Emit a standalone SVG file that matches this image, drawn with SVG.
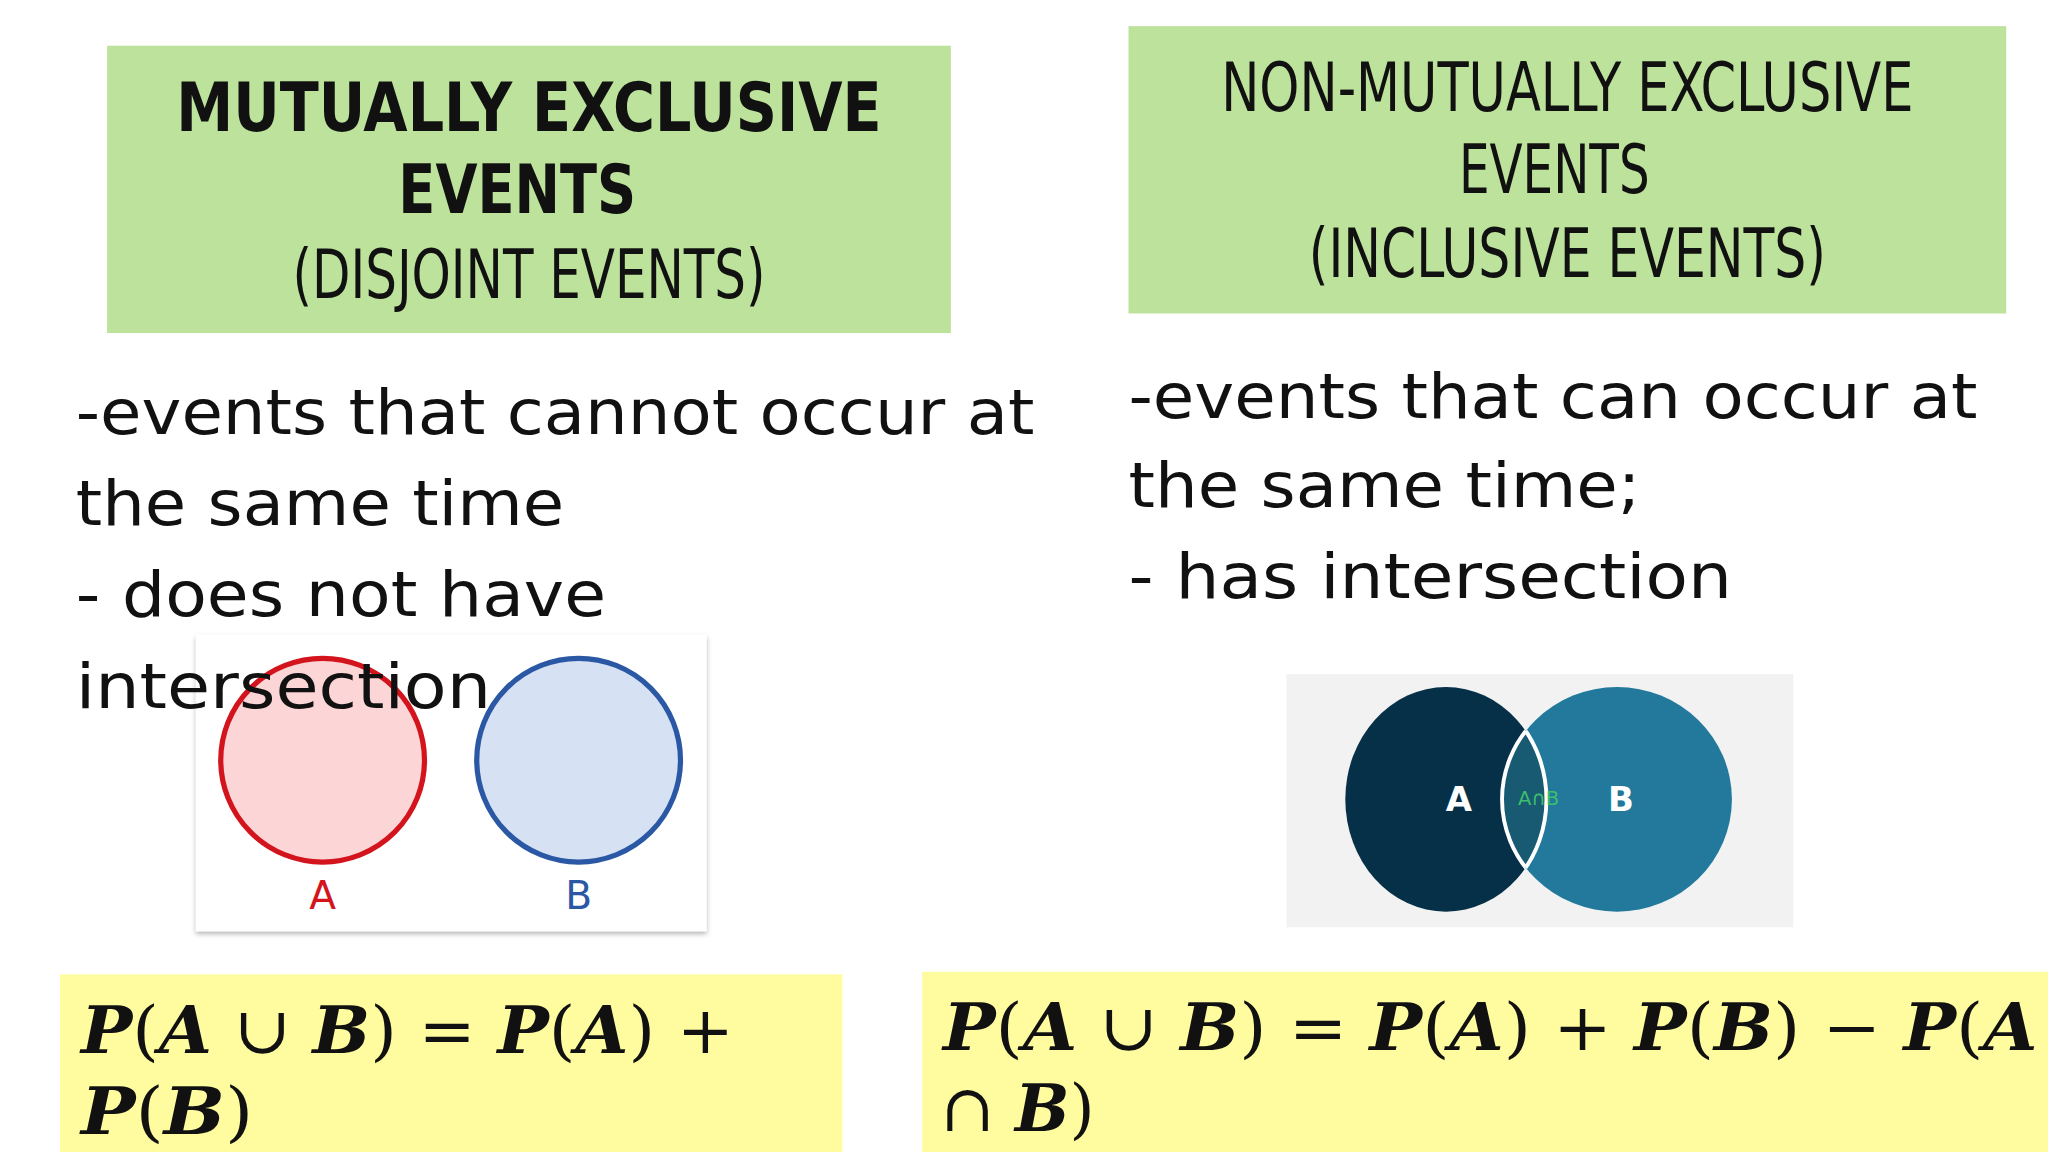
<svg xmlns="http://www.w3.org/2000/svg" width="2048" height="1152" viewBox="0 0 2048 1152">
<style>
.title{font-family:"DejaVu Sans Condensed","DejaVu Sans",sans-serif;font-weight:bold;font-size:52px;text-anchor:middle;fill:#111}
.body{font-family:"DejaVu Sans",sans-serif;font-size:48px;fill:#111}
.f{font-family:"DejaVu Serif","Liberation Serif",serif;font-size:50px;fill:#111}
.bi{font-weight:bold;font-style:italic}
</style>
<defs>
<filter id="sh"><feDropShadow dx="0" dy="2" stdDeviation="2" flood-opacity="0.3"/></filter>
<clipPath id="ca"><ellipse cx="1107" cy="612" rx="77" ry="86"/></clipPath>
<clipPath id="cb"><ellipse cx="1238" cy="612" rx="88" ry="86"/></clipPath>
</defs>
<rect width="2048" height="1152" fill="#fff"/>
<g transform="scale(1.30612)">
<g id="title-left">
<rect x="82" y="35" width="646" height="220" fill="#bde29b"/>
<text class="title" x="405" y="100" textLength="540" lengthAdjust="spacingAndGlyphs">MUTUALLY EXCLUSIVE</text>
<text class="title" x="396" y="163" textLength="182" lengthAdjust="spacingAndGlyphs">EVENTS</text>
<text class="title" x="405" y="228" style="font-weight:normal" textLength="362" lengthAdjust="spacingAndGlyphs">(DISJOINT EVENTS)</text>
</g>
<g id="title-right">
<rect x="864" y="20" width="672" height="220" fill="#bde29b"/>
<text class="title" x="1200" y="85" style="font-weight:normal" textLength="530" lengthAdjust="spacingAndGlyphs">NON-MUTUALLY EXCLUSIVE</text>
<text class="title" x="1190" y="148" style="font-weight:normal" textLength="146" lengthAdjust="spacingAndGlyphs">EVENTS</text>
<text class="title" x="1200" y="212" style="font-weight:normal" textLength="396" lengthAdjust="spacingAndGlyphs">(INCLUSIVE EVENTS)</text>
</g>
<g id="text-left">
<text class="body" x="58" y="332" textLength="734" lengthAdjust="spacingAndGlyphs">-events that cannot occur at</text>
<text class="body" x="58" y="402" textLength="374" lengthAdjust="spacingAndGlyphs">the same time</text>
<text class="body" x="58" y="472" textLength="406" lengthAdjust="spacingAndGlyphs">- does not have</text>
</g>
<g id="venn-left">
<rect x="150" y="486" width="391" height="227" fill="#fff" filter="url(#sh)"/>
<circle cx="247" cy="582" r="78" fill="#fcd5d7" stroke="#d4141c" stroke-width="4"/>
<circle cx="443" cy="582" r="78" fill="#d6e2f3" stroke="#2b58a4" stroke-width="4"/>
<text x="247" y="696" font-family="DejaVu Sans,sans-serif" font-size="30" fill="#d4141c" text-anchor="middle">A</text>
<text x="443" y="696" font-family="DejaVu Sans,sans-serif" font-size="30" fill="#2b58a4" text-anchor="middle">B</text>
<text class="body" x="58" y="542" textLength="318" lengthAdjust="spacingAndGlyphs">intersection</text>
</g>
<g id="text-right">
<text class="body" x="864" y="320" textLength="650" lengthAdjust="spacingAndGlyphs">-events that can occur at</text>
<text class="body" x="864" y="388" textLength="392" lengthAdjust="spacingAndGlyphs">the same time;</text>
<text class="body" x="864" y="458" textLength="462" lengthAdjust="spacingAndGlyphs">- has intersection</text>
</g>
<g id="venn-right">
<rect x="985" y="516" width="388" height="194" fill="#f2f2f2"/>
<ellipse cx="1107" cy="612" rx="77" ry="86" fill="#063047"/>
<ellipse cx="1238" cy="612" rx="88" ry="86" fill="#22799b"/>
<ellipse cx="1238" cy="612" rx="88" ry="86" fill="#175a72" clip-path="url(#ca)"/>
<ellipse cx="1238" cy="612" rx="88" ry="86" fill="none" stroke="#fff" stroke-width="3" clip-path="url(#ca)"/>
<ellipse cx="1107" cy="612" rx="77" ry="86" fill="none" stroke="#fff" stroke-width="3" clip-path="url(#cb)"/>
<text x="1117" y="621" font-family="DejaVu Sans,sans-serif" font-weight="bold" font-size="26" fill="#fff" text-anchor="middle">A</text>
<text x="1241" y="621" font-family="DejaVu Sans,sans-serif" font-weight="bold" font-size="26" fill="#fff" text-anchor="middle">B</text>
<text x="1178" y="616" font-family="DejaVu Sans,sans-serif" font-size="15" fill="#3bbf6c" text-anchor="middle">A∩B</text>
</g>
<g id="formula-left">
<rect x="46" y="746" width="599" height="136" fill="#fffca0"/>
<text class="f" x="62" y="806" textLength="500" lengthAdjust="spacingAndGlyphs"><tspan class="bi">P</tspan>(<tspan class="bi">A</tspan> ∪ <tspan class="bi">B</tspan>) = <tspan class="bi">P</tspan>(<tspan class="bi">A</tspan>) +</text>
<text class="f" x="62" y="868" textLength="132" lengthAdjust="spacingAndGlyphs"><tspan class="bi">P</tspan>(<tspan class="bi">B</tspan>)</text>
</g>
<g id="formula-right">
<rect x="706" y="744" width="862" height="138" fill="#fffca0"/>
<text class="f" x="722" y="804" textLength="838" lengthAdjust="spacingAndGlyphs"><tspan class="bi">P</tspan>(<tspan class="bi">A</tspan> ∪ <tspan class="bi">B</tspan>) = <tspan class="bi">P</tspan>(<tspan class="bi">A</tspan>) + <tspan class="bi">P</tspan>(<tspan class="bi">B</tspan>) − <tspan class="bi">P</tspan>(<tspan class="bi">A</tspan></text>
<text class="f" x="720" y="866" textLength="118" lengthAdjust="spacingAndGlyphs">∩ <tspan class="bi">B</tspan>)</text>
</g>
</g>
</svg>
